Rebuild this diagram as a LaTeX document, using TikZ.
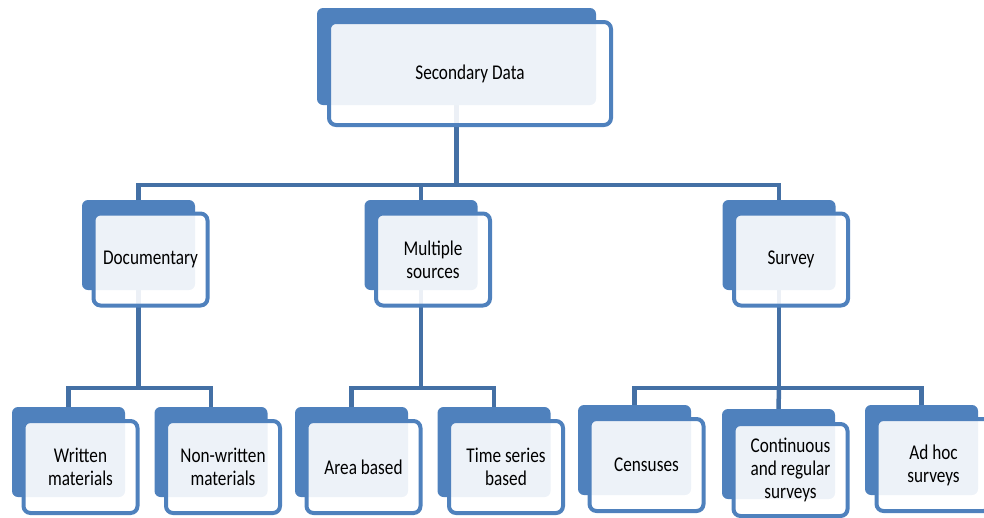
\documentclass[tikz,border=0pt]{standalone}
\usepackage{fontspec}
\setmainfont{Carlito}[FakeStretch=0.82]
\pgfdeclarelayer{bg}
\pgfsetlayers{bg,main}
\definecolor{boxblue}{HTML}{4F81BD}
\definecolor{linkblue}{HTML}{4470A5}
\tikzset{
  backbox/.style={rectangle, rounded corners=6pt, fill=boxblue, draw=none,
    minimum width=113pt, minimum height=90pt, inner sep=0pt},
  frontbox/.style={rectangle, rounded corners=7pt, draw=boxblue, line width=4pt,
    fill=white, fill opacity=0.9, text opacity=1, text=black,
    minimum width=114pt, minimum height=92pt, inner sep=0pt, align=center,
    font=\fontsize{21}{23}\selectfont},
  conn/.style={draw=linkblue, line width=4.5pt}
}
\begin{document}
\begin{tikzpicture}[x=1pt,y=-1pt]
\useasboundingbox (0,0) rectangle (984,517);
% top
\node[backbox, minimum width=279pt, minimum height=97pt] (topb) at (456.5,56.5) {};
\node[frontbox, minimum width=282pt, minimum height=103pt] (topf) at (470,73.5) {Secondary Data};
% row 2
\node[backbox] (docb) at (138.5,245) {};
\node[frontbox] (docf) at (150.5,259.5) {Documentary};
\node[backbox] (mulb) at (421,245) {};
\node[frontbox] (mulf) at (433,259.5) {Multiple\\sources};
\node[backbox] (surb) at (779,245) {};
\node[frontbox] (surf) at (791,259.5) {Survey};
% row 3
\node[backbox] (wrib) at (68.5,452) {};
\node[frontbox] (wrif) at (80.5,467) {Written\\materials};
\node[backbox] (nwrb) at (211,452) {};
\node[frontbox] (nwrf) at (223,467) {Non-written\\materials};
\node[backbox] (areb) at (351.5,452) {};
\node[frontbox] (aref) at (363.5,467) {Area based};
\node[backbox] (timb) at (494,452) {};
\node[frontbox] (timf) at (506,467) {Time series\\based};
\node[backbox] (cenb) at (634.5,450) {};
\node[frontbox] (cenf) at (646.5,465) {Censuses};
\node[backbox] (conb) at (778.5,454) {};
\node[frontbox] (conf) at (790.5,470) {Continuous\\and regular\\surveys};
\node[backbox] (adhb) at (921.5,450) {};
\node[frontbox] (adhf) at (933.5,465) {Ad hoc\\surveys};
% connectors
\coordinate (bus1) at (0,185);
\coordinate (bus2) at (0,388);
\begin{pgfonlayer}{bg}
\draw[conn] (topb.center) -- (topb.center |- bus1) -| (docb.north);
\draw[conn] (topb.center |- bus1) -| (mulb.north);
\draw[conn] (topb.center |- bus1) -| (surb.north);
\draw[conn] (docb.center) -- (docb.center |- bus2) -| (wrib.north);
\draw[conn] (docb.center |- bus2) -| (nwrb.north);
\draw[conn] (mulb.center) -- (mulb.center |- bus2) -| (areb.north);
\draw[conn] (mulb.center |- bus2) -| (timb.north);
\draw[conn] (surb.center) -- (surb.center |- bus2) -| (cenb.north);
\draw[conn] (surb.center |- bus2) -| (adhb.north);
\draw[conn] (surb.center |- bus2) -- (conb.north);
\end{pgfonlayer}
\end{tikzpicture}
\end{document}
